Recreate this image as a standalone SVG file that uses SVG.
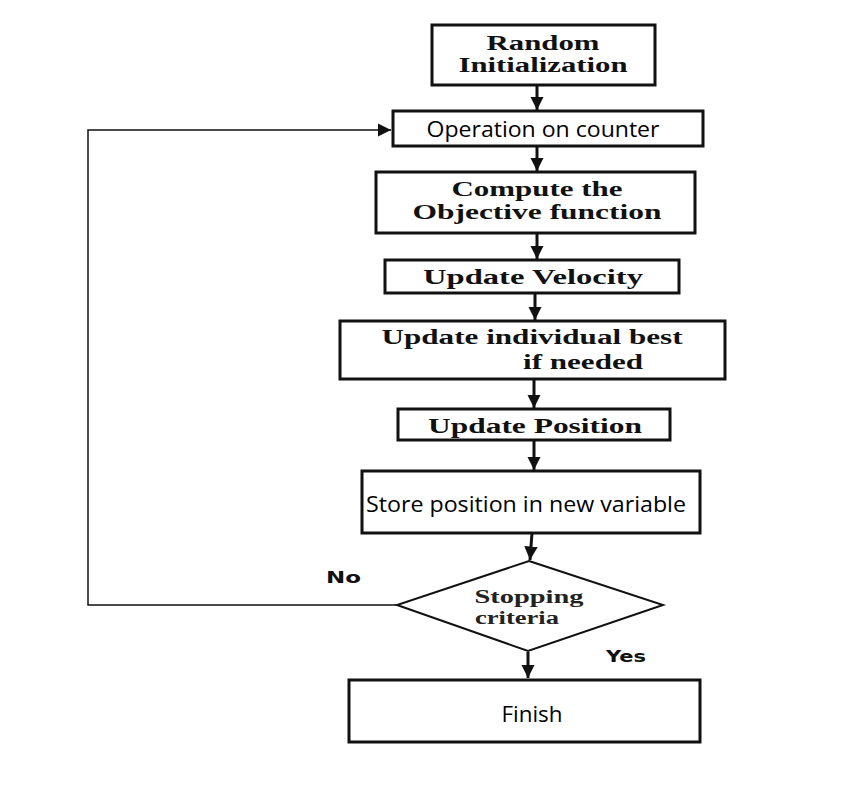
<svg xmlns="http://www.w3.org/2000/svg" width="864" height="806" viewBox="0 0 864 806">
<defs>
<marker id="ah" viewBox="0 0 10 10" refX="10" refY="5" markerWidth="4.5" markerHeight="4.5" orient="auto" markerUnits="strokeWidth">
<path d="M0,0 L10,5 L0,10 Z" fill="#111"/>
</marker>
<marker id="ahs" viewBox="0 0 10 10" refX="10" refY="5" markerWidth="9" markerHeight="9" orient="auto" markerUnits="strokeWidth">
<path d="M0,0 L10,5 L0,10 Z" fill="#111"/>
</marker>
</defs>
<style>
.box{fill:#fff;stroke:#111;stroke-width:3}
.dia{fill:#fff;stroke:#111;stroke-width:2}
.ser{font-family:"Liberation Serif","Times New Roman",serif;font-weight:bold;font-size:20px;fill:#111}
.dser{font-family:"Liberation Serif","Times New Roman",serif;font-weight:bold;font-size:18px;fill:#222}
.sans{font-family:"Open Sans","Noto Sans","Liberation Sans",sans-serif;font-size:22px;fill:#000}
.lbl{font-family:"DejaVu Sans","Liberation Sans",sans-serif;font-weight:bold;font-size:15px;fill:#111}
.con{fill:none;stroke:#111;stroke-width:3}
.con2{fill:none;stroke:#111;stroke-width:1.5}
</style>
<rect width="864" height="806" fill="#fff"/>
<g id="connectors">
<line class="con" x1="537" y1="85" x2="537" y2="110" marker-end="url(#ah)"/>
<line class="con" x1="537" y1="146" x2="537" y2="171" marker-end="url(#ah)"/>
<line class="con" x1="537" y1="233" x2="537" y2="259" marker-end="url(#ah)"/>
<line class="con" x1="535" y1="293" x2="535" y2="320" marker-end="url(#ah)"/>
<line class="con" x1="534" y1="379" x2="534" y2="408" marker-end="url(#ah)"/>
<line class="con" x1="534" y1="440" x2="534" y2="470" marker-end="url(#ah)"/>
<line class="con" x1="532" y1="533" x2="530" y2="560" marker-end="url(#ah)"/>
<line class="con" x1="528" y1="652" x2="528" y2="678" marker-end="url(#ah)"/>
<polyline class="con2" points="397,605 88,605 88,130 391,130" marker-end="url(#ahs)"/>
<text class="lbl" x="326" y="583" textLength="35" lengthAdjust="spacingAndGlyphs">No</text>
<text class="lbl" x="606" y="662" textLength="40" lengthAdjust="spacingAndGlyphs">Yes</text>
</g>
<g id="n1">
<rect class="box" x="432" y="25" width="223" height="60"/>
<text class="ser" x="543" y="50" text-anchor="middle" textLength="113" lengthAdjust="spacingAndGlyphs">Random</text>
<text class="ser" x="543" y="72" text-anchor="middle" textLength="169" lengthAdjust="spacingAndGlyphs">Initialization</text>
</g>
<g id="n2">
<rect class="box" x="393" y="111" width="310" height="35"/>
<text class="sans" x="543" y="137" text-anchor="middle" textLength="233" lengthAdjust="spacingAndGlyphs">Operation on counter</text>
</g>
<g id="n3">
<rect class="box" x="376" y="172" width="319" height="61"/>
<text class="ser" x="537" y="196" text-anchor="middle" textLength="171" lengthAdjust="spacingAndGlyphs">Compute the</text>
<text class="ser" x="537" y="219" text-anchor="middle" textLength="249" lengthAdjust="spacingAndGlyphs">Objective function</text>
</g>
<g id="n4">
<rect class="box" x="385" y="260" width="294" height="33"/>
<text class="ser" x="533" y="284" text-anchor="middle" textLength="220" lengthAdjust="spacingAndGlyphs">Update Velocity</text>
</g>
<g id="n5">
<rect class="box" x="340" y="321" width="385" height="58"/>
<text class="ser" x="532" y="344" text-anchor="middle" textLength="301" lengthAdjust="spacingAndGlyphs">Update individual best</text>
<text class="ser" x="583" y="369" text-anchor="middle" textLength="120" lengthAdjust="spacingAndGlyphs">if needed</text>
</g>
<g id="n6">
<rect class="box" x="398" y="409" width="272" height="31"/>
<text class="ser" x="535" y="433" text-anchor="middle" textLength="214" lengthAdjust="spacingAndGlyphs">Update Position</text>
</g>
<g id="n7">
<rect class="box" x="362" y="471" width="338" height="62"/>
<text class="sans" x="526" y="512" text-anchor="middle" textLength="320" lengthAdjust="spacingAndGlyphs">Store position in new variable</text>
</g>
<g id="n8">
<polygon class="dia" points="529,561 663,605 528,651 397,605"/>
<text class="dser" x="529" y="603" text-anchor="middle" textLength="109" lengthAdjust="spacingAndGlyphs">Stopping</text>
<text class="dser" x="517" y="624" text-anchor="middle" textLength="84" lengthAdjust="spacingAndGlyphs">criteria</text>
</g>
<g id="n9">
<rect class="box" x="349" y="680" width="351" height="62"/>
<text class="sans" x="532" y="722" text-anchor="middle" textLength="61" lengthAdjust="spacingAndGlyphs">Finish</text>
</g>
</svg>
